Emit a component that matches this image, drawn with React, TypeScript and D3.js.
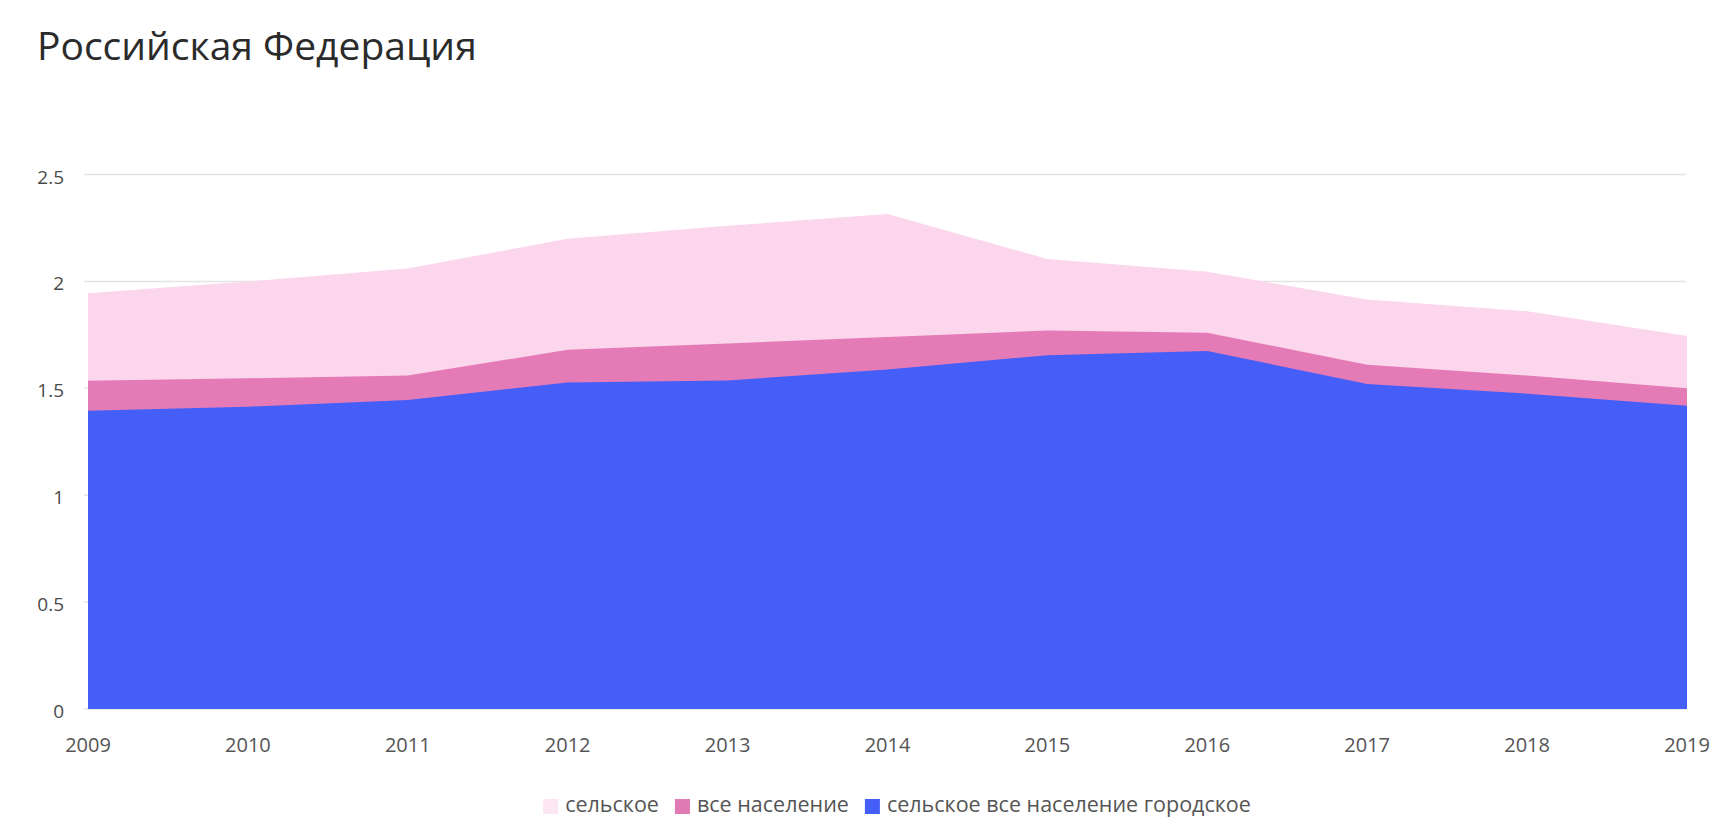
import { useEffect, useRef } from "react";
import * as d3 from "d3";

const years = [2009, 2010, 2011, 2012, 2013, 2014, 2015, 2016, 2017, 2018, 2019];
const ruralValues = [1.945, 2.0, 2.06, 2.2, 2.26, 2.315, 2.105, 2.045, 1.915, 1.86, 1.745];
const totalValues = [1.535, 1.547, 1.56, 1.68, 1.71, 1.74, 1.77, 1.76, 1.61, 1.56, 1.5];
const urbanValues = [1.395, 1.414, 1.445, 1.527, 1.537, 1.588, 1.655, 1.675, 1.52, 1.475, 1.418];
const yTicks = [0, 0.5, 1, 1.5, 2, 2.5];
const legendLabels = ["сельское", "все население", "сельское все население городское"];

const W = 1715;
const H = 822;
const FONT = "'Open Sans', 'Noto Sans', sans-serif";

const series = [
  { name: legendLabels[0], values: ruralValues, color: "#fcd6ec", swatch: "#fce6f2" },
  { name: legendLabels[1], values: totalValues, color: "#e47bb6", swatch: "#e07ab4" },
  { name: legendLabels[2], values: urbanValues, color: "#455ef8", swatch: "#455ef8" },
];

export default function App() {
  const svgRef = useRef<SVGSVGElement>(null);

  useEffect(() => {
    if (!svgRef.current) return;
    const svg = d3.select(svgRef.current);
    svg.selectAll("*").remove();

    const x = d3.scaleLinear().domain([2009, 2019]).range([88, 1687]);
    const y = d3.scaleLinear().domain([0, 2.5]).range([709, 174.5]);

    // title
    svg.append("text")
      .attr("x", 37).attr("y", 60)
      .attr("font-family", FONT).attr("font-size", 39)
      .attr("fill", "#2b2b2b")
      .text("Российская Федерация");

    // gridlines
    svg.append("g").selectAll("line").data(yTicks).join("line")
      .attr("x1", 84).attr("x2", 1686)
      .attr("y1", d => y(d)).attr("y2", d => y(d))
      .attr("stroke", "#e4e4e4").attr("stroke-width", 1.5);

    // y labels
    svg.append("g").selectAll("text").data(yTicks).join("text")
      .attr("x", 64).attr("y", d => y(d) + 9)
      .attr("text-anchor", "end")
      .attr("font-family", FONT).attr("font-size", 19)
      .attr("fill", "#4a4a4a")
      .text(d => String(d));

    // areas, drawn back to front
    const area = d3.area<number>()
      .x((_, i) => x(years[i]))
      .y0(y(0))
      .y1(d => y(d))
      .curve(d3.curveLinear);

    svg.append("g").selectAll("path").data(series).join("path")
      .attr("d", d => area(d.values))
      .attr("fill", d => d.color);

    // x labels
    svg.append("g").selectAll("text").data(years).join("text")
      .attr("x", d => x(d)).attr("y", 752)
      .attr("text-anchor", "middle")
      .attr("font-family", FONT).attr("font-size", 20)
      .attr("fill", "#555")
      .text(d => String(d));

    // legend, centred
    const lg = svg.append("g");
    const items = series.map(s => {
      const g = lg.append("g");
      g.append("rect").attr("width", 15).attr("height", 15).attr("y", -13)
        .attr("fill", s.swatch);
      const t = g.append("text").attr("x", 22).attr("y", 0)
        .attr("font-family", FONT).attr("font-size", 21.5)
        .attr("fill", "#555")
        .text(s.name);
      const w = 22 + (t.node() as SVGTextElement).getComputedTextLength();
      return { g, w };
    });
    const gap = 16;
    const total = d3.sum(items, d => d.w) + gap * (items.length - 1);
    let cx = 897 - total / 2;
    items.forEach(it => {
      it.g.attr("transform", `translate(${cx},812)`);
      cx += it.w + gap;
    });
  }, []);

  return (
    <div style={{ position: "absolute", left: 0, top: 0, background: "#fff" }}>
      <svg ref={svgRef} width={W} height={H} style={{ display: "block" }} />
    </div>
  );
}
